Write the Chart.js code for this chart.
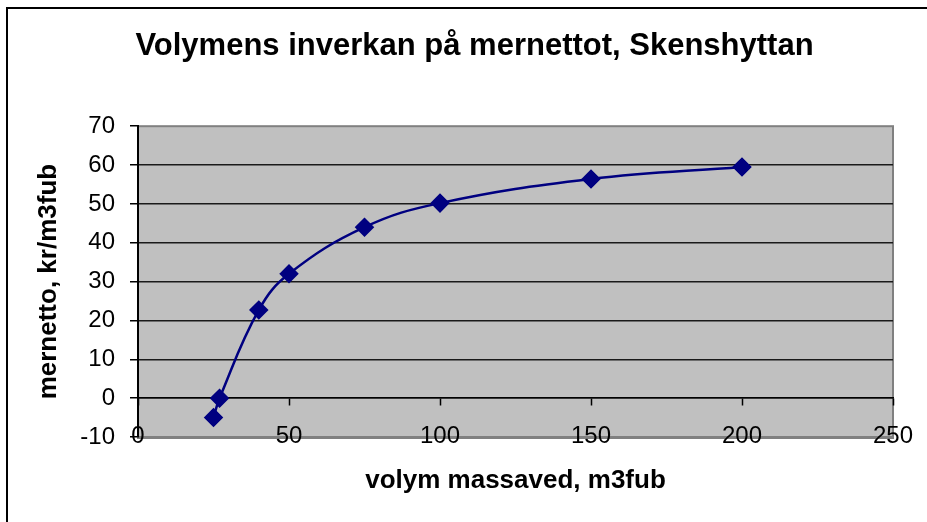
<!DOCTYPE html>
<html>
<head>
<meta charset="utf-8">
<script src="https://cdn.jsdelivr.net/npm/chart.js@4"></script>
<style>
  html, body { margin: 0; padding: 0; background: #fff; overflow: hidden; }
  #wrap { position: relative; width: 927px; height: 522px; }
  #frame { position: absolute; left: 6px; top: 7px; width: 940px; height: 540px;
           border-left: 2px solid #000; border-top: 2px solid #000; }
  canvas { position: absolute; left: 0; top: 0; }
</style>
</head>
<body>
<div id="wrap">
  <div id="frame"></div>
  <canvas id="myChart" width="927" height="522"></canvas>
</div>
<script>
// データ
const volym = [ 25, 27, 40, 50, 75, 100, 150, 200 ];
const mernetto = [ -5, 0, 22.7, 32, 44, 50.2, 56.4, 59.5 ];
const xTicks = [ 0, 50, 100, 150, 200, 250 ];
const yTicks = [ -10, 0, 10, 20, 30, 40, 50, 60, 70 ];

const font = "'Liberation Sans', Arial, sans-serif";

// プロットエリアの背景と枠
const plotBg = {
    id: 'plotBg',
    beforeDraw( chart ) {
        const { ctx, chartArea: a } = chart;
        ctx.save();
        ctx.fillStyle = '#C0C0C0';
        ctx.fillRect( a.left, a.top, a.right - a.left, a.bottom - a.top );
        ctx.strokeStyle = '#808080';
        ctx.lineWidth = 2;
        ctx.strokeRect( a.left, a.top, a.right - a.left, a.bottom - a.top );
        ctx.restore();
    }
};

const ctx = document.getElementById( 'myChart' ).getContext( '2d' );

new Chart( ctx, {
    type: 'scatter',
    data: {
        datasets: [{
            label: 'mernetto',
            data: volym.map( ( v, i ) => ( { x: v, y: mernetto[ i ] } ) ),
            showLine: true,
            borderColor: '#000080',
            borderWidth: 2.5,
            backgroundColor: '#000080',
            pointStyle: 'rectRot',
            pointRadius: 8,
            pointHoverRadius: 8,
            tension: 0.4
        }]
    },
    options: {
        responsive: false,
        animation: false,
        layout: { padding: { left: 22, right: 0, top: 0, bottom: 0 } },
        plugins: {
            legend: { display: false },
            tooltip: { enabled: false },
            title: {
                display: true,
                text: 'Volymens inverkan på mernettot, Skenshyttan',
                color: '#000',
                font: { family: font, size: 31, weight: 'bold' },
                padding: { top: 28, bottom: 61 }
            }
        },
        scales: {
            x: {
                type: 'linear',
                position: 'bottom',
                min: 0,
                max: 250,
                afterBuildTicks: ( s ) => { s.ticks = xTicks.map( v => ( { value: v } ) ); },
                afterFit: ( s ) => {
                    s.height = 85;
                    // ラベルが軸線に重なるのでクリップしない
                    s._computeLabelArea = () => undefined;
                },
                grid: { drawOnChartArea: false, drawTicks: false },
                border: { color: '#808080', width: 3 },
                ticks: {
                    color: '#000',
                    padding: -15,
                    maxRotation: 0,
                    font: { family: font, size: 24 }
                },
                title: {
                    display: true,
                    text: 'volym massaved, m3fub',
                    color: '#000',
                    font: { family: font, size: 26, weight: 'bold' },
                    padding: { top: 0, bottom: 26 }
                }
            },
            // y=0 の位置の軸線と目盛り
            x0: {
                type: 'linear',
                axis: 'x',
                position: { y: 0 },
                min: 0,
                max: 250,
                afterBuildTicks: ( s ) => { s.ticks = xTicks.map( v => ( { value: v } ) ); },
                grid: { drawOnChartArea: false, drawTicks: true, tickLength: 7, color: '#000', tickWidth: 1.5 },
                border: { color: '#000', width: 1.5 },
                ticks: { display: false }
            },
            y: {
                type: 'linear',
                min: -10,
                max: 70,
                afterBuildTicks: ( s ) => { s.ticks = yTicks.map( v => ( { value: v } ) ); },
                afterFit: ( s ) => { s.width = 116; },
                grid: {
                    color: ( c ) => ( c.tick && ( c.tick.value === 70 || c.tick.value === -10 ) ) ? 'rgba(0,0,0,0)' : '#1a1a1a',
                    lineWidth: 1.5,
                    tickColor: '#000',
                    tickLength: 8
                },
                border: { color: '#000', width: 2 },
                ticks: {
                    color: '#000',
                    padding: 15,
                    font: { family: font, size: 24 }
                },
                title: {
                    display: true,
                    text: 'mernetto, kr/m3fub',
                    color: '#000',
                    font: { family: font, size: 26, weight: 'bold' },
                    padding: { top: 11, bottom: 0 }
                }
            },
            // 右側の余白用（何も描かない）
            yR: {
                type: 'linear',
                position: 'right',
                min: -10,
                max: 70,
                afterFit: ( s ) => { s.width = 34; },
                grid: { display: false },
                border: { display: false },
                ticks: { display: false }
            }
        }
    },
    plugins: [ plotBg ]
});
</script>
</body>
</html>
